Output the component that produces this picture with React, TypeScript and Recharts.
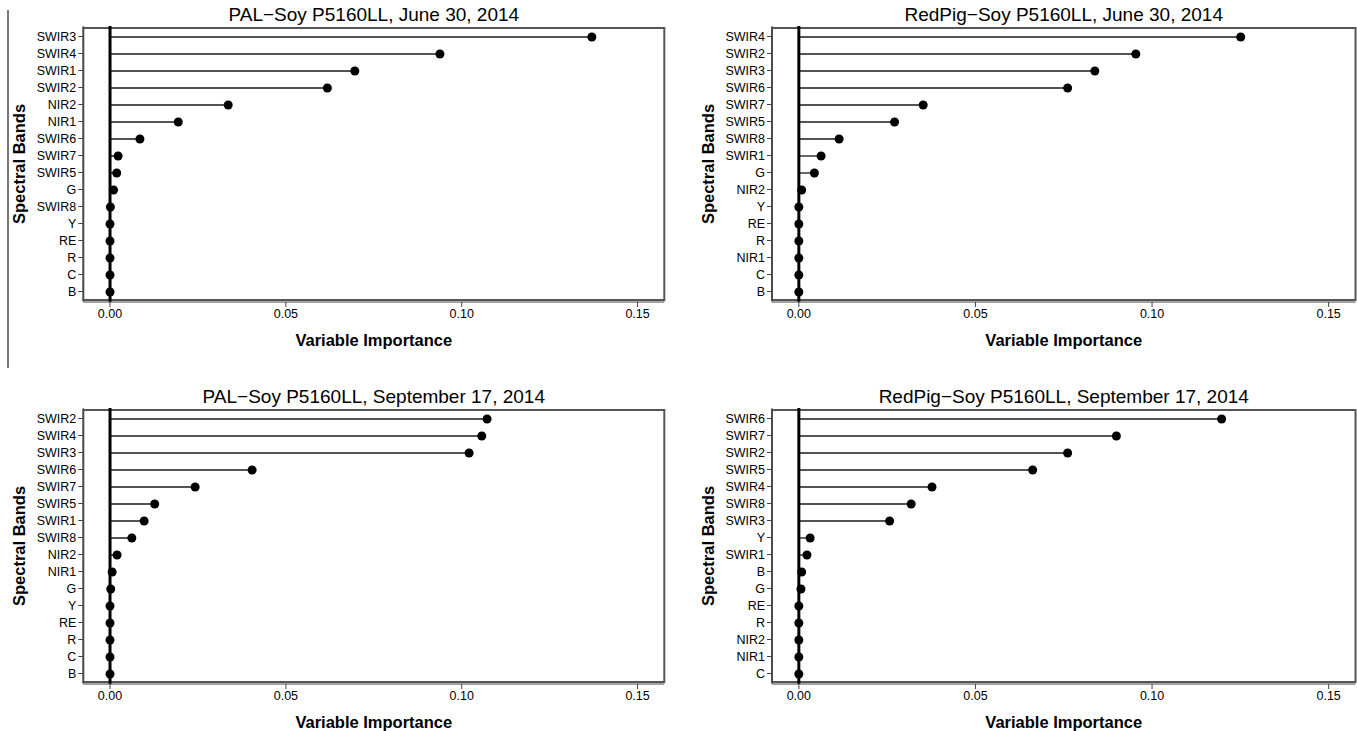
import {
  ComposedChart,
  Bar,
  XAxis,
  YAxis,
  ReferenceLine,
  ReferenceArea,
  Label,
} from "recharts";

// PAL-Soy, June 30
const palJuneBands = ["SWIR3", "SWIR4", "SWIR1", "SWIR2", "NIR2", "NIR1", "SWIR6", "SWIR7", "SWIR5", "G", "SWIR8", "Y", "RE", "R", "C", "B"];
const palJuneValues = [0.137, 0.0938, 0.0696, 0.0618, 0.0336, 0.0194, 0.0085, 0.0023, 0.0019, 0.001, 0.0001, 0, 0, 0, 0, 0];

// RedPig-Soy, June 30
const redJuneBands = ["SWIR4", "SWIR2", "SWIR3", "SWIR6", "SWIR7", "SWIR5", "SWIR8", "SWIR1", "G", "NIR2", "Y", "RE", "R", "NIR1", "C", "B"];
const redJuneValues = [0.1251, 0.0954, 0.0838, 0.0761, 0.0352, 0.0271, 0.0114, 0.0063, 0.0044, 0.0008, 0, 0, 0, 0, 0, 0];

// PAL-Soy, September 17
const palSeptBands = ["SWIR2", "SWIR4", "SWIR3", "SWIR6", "SWIR7", "SWIR5", "SWIR1", "SWIR8", "NIR2", "NIR1", "G", "Y", "RE", "R", "C", "B"];
const palSeptValues = [0.1072, 0.1057, 0.1021, 0.0404, 0.0242, 0.0127, 0.0097, 0.0062, 0.002, 0.0006, 0.0002, 0, 0, 0, 0, 0];

// RedPig-Soy, September 17
const redSeptBands = ["SWIR6", "SWIR7", "SWIR2", "SWIR5", "SWIR4", "SWIR8", "SWIR3", "Y", "SWIR1", "B", "G", "RE", "R", "NIR2", "NIR1", "C"];
const redSeptValues = [0.1197, 0.0899, 0.0761, 0.0662, 0.0377, 0.0318, 0.0257, 0.0032, 0.0023, 0.0008, 0.0006, 0, 0, 0, 0, 0];

const xTicks = [0, 0.05, 0.1, 0.15];
const xDomain: [number, number] = [-0.0076, 0.1576];

const FONT = '"Liberation Sans", Arial, sans-serif';
const CHART_H = 365;
const PLOT_TOP = 26;

function Lollipop(props: any) {
  const { x, y, width, height } = props;
  const cy = y + height / 2;
  const end = x + width;
  return (
    <g>
      <line x1={x} x2={end} y1={cy} y2={cy} stroke="#1a1a1a" strokeWidth={1.3} />
      <circle cx={end} cy={cy} r={4.5} fill="#000" />
    </g>
  );
}

type PanelProps = {
  title: string;
  bands: string[];
  values: number[];
  left: number;
  top: number;
  width: number;
  yAxisWidth: number;
  rightPad: number;
};

function Panel({ title, bands, values, left, top, width, yAxisWidth, rightPad }: PanelProps) {
  const data = bands.map((band, i) => ({ band, value: values[i] }));
  const plotWidth = width - yAxisWidth - rightPad;
  return (
    <div style={{ position: "absolute", left, top, width, height: CHART_H }}>
      <div
        style={{
          position: "absolute",
          left: yAxisWidth,
          width: plotWidth,
          top: 4,
          lineHeight: "22px",
          textAlign: "center",
          fontSize: 19,
          color: "#000",
        }}
      >
        {title}
      </div>
      <ComposedChart
        layout="vertical"
        width={width}
        height={CHART_H}
        data={data}
        margin={{ top: PLOT_TOP, right: rightPad, bottom: 0, left: 0 }}
      >
        <XAxis
          type="number"
          domain={xDomain}
          ticks={xTicks}
          allowDataOverflow
          tickFormatter={(v: number) => v.toFixed(2)}
          height={63}
          tickSize={5}
          tickMargin={2}
          tick={{ fill: "#000", fontSize: 12.5 }}
          stroke="#444"
        >
          <Label
            content={(p: any) => {
              const vb = p.viewBox;
              return (
                <text
                  x={vb.x + vb.width / 2}
                  y={vb.y + 44}
                  textAnchor="middle"
                  fontWeight="bold"
                  fontSize={16.5}
                  fill="#000"
                >
                  Variable Importance
                </text>
              );
            }}
          />
        </XAxis>
        <YAxis
          type="category"
          dataKey="band"
          width={yAxisWidth}
          interval={0}
          padding={{ top: 2, bottom: 2 }}
          tickSize={5}
          tickMargin={2}
          tick={{ fill: "#000", fontSize: 12.5 }}
          stroke="#444"
        >
          <Label
            content={(p: any) => {
              const vb = p.viewBox;
              const cx = vb.x + vb.width - 64;
              const cy = vb.y + vb.height / 2;
              return (
                <text
                  x={cx}
                  y={cy}
                  transform={`rotate(-90 ${cx} ${cy})`}
                  textAnchor="middle"
                  dominantBaseline="central"
                  fontWeight="bold"
                  fontSize={16.5}
                  fill="#000"
                >
                  Spectral Bands
                </text>
              );
            }}
          />
        </YAxis>
        <ReferenceArea
          x1={xDomain[0]}
          x2={xDomain[1]}
          fill="none"
          stroke="#555"
          strokeWidth={2}
          ifOverflow="visible"
        />
        <ReferenceLine x={0} stroke="#000" strokeWidth={3} />
        <Bar dataKey="value" shape={Lollipop} barSize={2} isAnimationActive={false} />
      </ComposedChart>
    </div>
  );
}

export default function App() {
  return (
    <div
      style={{
        position: "absolute",
        left: 0,
        top: 0,
        width: 1357,
        height: 731,
        background: "#fff",
        fontFamily: FONT,
      }}
    >
      <div style={{ position: "absolute", left: 7, top: 10, width: 1.5, height: 358, background: "#777" }} />
      <Panel
        title="PAL−Soy P5160LL, June 30, 2014"
        bands={palJuneBands}
        values={palJuneValues}
        left={0}
        top={0}
        width={680}
        yAxisWidth={83.3}
        rightPad={15.7}
      />
      <Panel
        title="RedPig−Soy P5160LL, June 30, 2014"
        bands={redJuneBands}
        values={redJuneValues}
        left={680}
        top={0}
        width={677}
        yAxisWidth={92}
        rightPad={1.5}
      />
      <Panel
        title="PAL−Soy P5160LL, September 17, 2014"
        bands={palSeptBands}
        values={palSeptValues}
        left={0}
        top={381.5}
        width={680}
        yAxisWidth={83.3}
        rightPad={15.7}
      />
      <Panel
        title="RedPig−Soy P5160LL, September 17, 2014"
        bands={redSeptBands}
        values={redSeptValues}
        left={680}
        top={381.5}
        width={677}
        yAxisWidth={92}
        rightPad={1.5}
      />
    </div>
  );
}
